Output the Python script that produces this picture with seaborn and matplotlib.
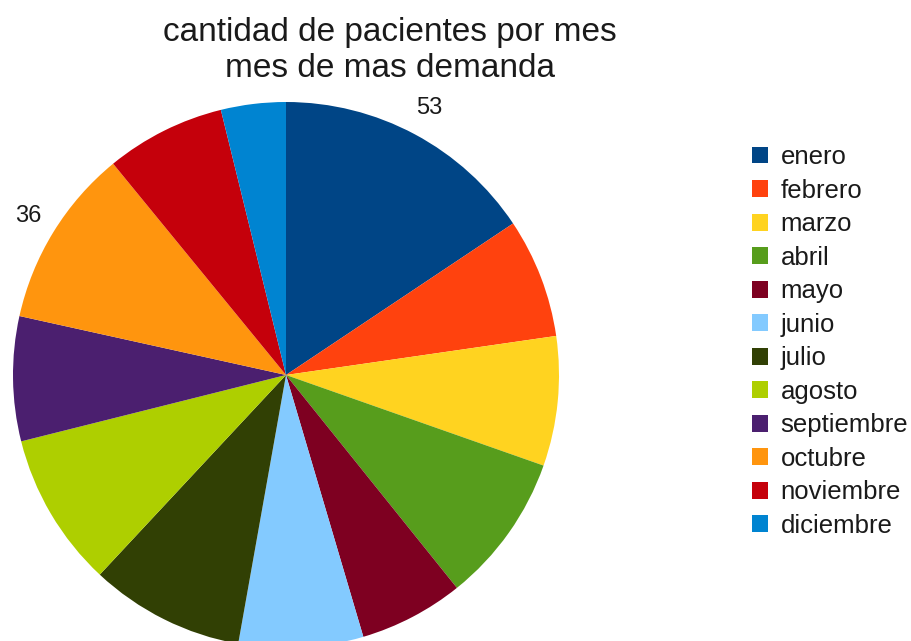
import matplotlib
matplotlib.use("Agg")
import matplotlib.pyplot as plt
from matplotlib.patches import Patch
import numpy as np
import seaborn as sns

sns.set_style("white")
plt.rcParams['font.family'] = ['Liberation Sans', 'DejaVu Sans']

months = ["enero", "febrero", "marzo", "abril", "mayo", "junio", "julio",
          "agosto", "septiembre", "octubre", "noviembre", "diciembre"]
patients = [53, 24, 26, 30, 21, 25, 31, 31, 25, 36, 24, 13]
shown_labels = {"enero": "53", "octubre": "36"}
colors = ["#004586", "#ff420e", "#ffd320", "#579d1c", "#7e0021", "#83caff",
          "#314004", "#aecf00", "#4b1f6f", "#ff950e", "#c5000b", "#0084d1"]
title_text = "cantidad de pacientes por mes\nmes de mas demanda"

W, H = 912, 641
fig = plt.figure(figsize=(W / 100, H / 100), dpi=100)
fig.patch.set_facecolor("white")

cx, cy, R = 286, 375, 273
ax = fig.add_axes([(cx - R) / W, (H - cy - R) / H, 2 * R / W, 2 * R / H])
wedges, _ = ax.pie(patients, colors=colors, startangle=90, counterclock=False,
                   radius=1.0, wedgeprops=dict(linewidth=0))
ax.set_xlim(-1, 1)
ax.set_ylim(-1, 1)
ax.set_aspect("equal")
ax.axis("off")

for w, m in zip(wedges, months):
    if m in shown_labels:
        ang = np.deg2rad((w.theta1 + w.theta2) / 2)
        r = 1.11
        ax.text(r * np.cos(ang), r * np.sin(ang), shown_labels[m],
                ha="center", va="center", fontsize=17, color="#1a1a1a",
                clip_on=False)

fig.text(390 / W, 1 - 17 / H, title_text, ha="center", va="top",
         fontsize=24, color="#1a1a1a", linespacing=1.2)

handles = [Patch(facecolor=c, edgecolor="none") for c in colors]
fig.legend(handles, months, loc="center left",
           bbox_to_anchor=(752 / W, 1 - 341.5 / H), frameon=False,
           fontsize=18.5, handlelength=0.62, handleheight=0.62,
           handletextpad=0.5, labelspacing=0.37, borderpad=0,
           borderaxespad=0, labelcolor="#1a1a1a")

fig.savefig("out.png", dpi=100, facecolor="white")
